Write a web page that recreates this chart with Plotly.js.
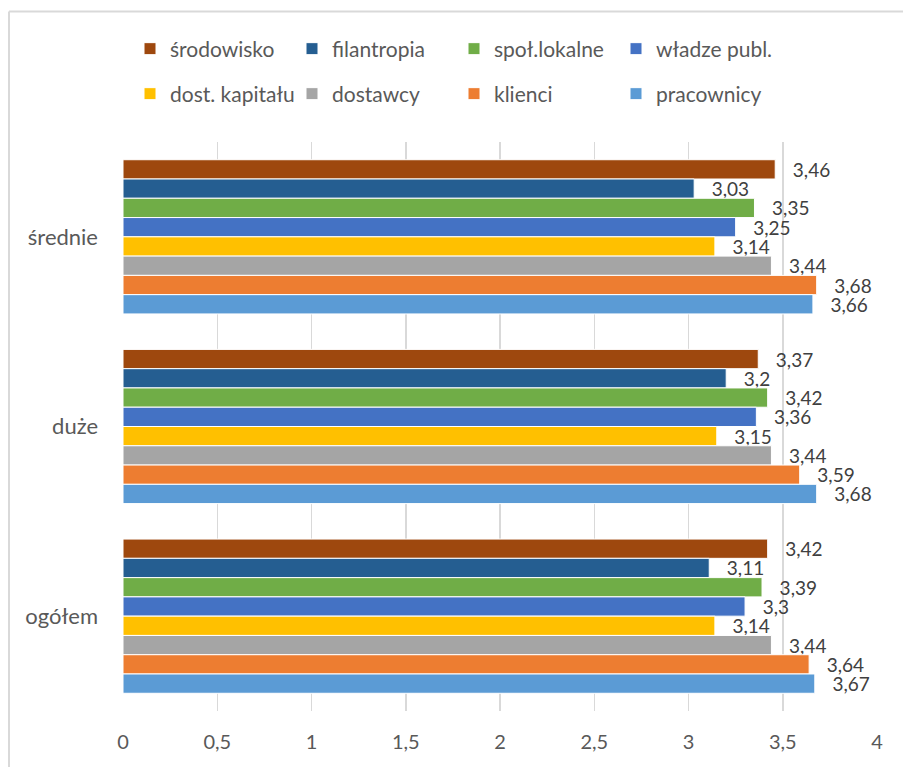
<!DOCTYPE html>
<html>
<head>
<meta charset="utf-8">
<script src="https://cdn.plot.ly/plotly-3.0.1.min.js"></script>
<style>
  html, body { margin: 0; padding: 0; background: #ffffff; }
  #chart { width: 903px; height: 767px; }
</style>
</head>
<body>
<div id="chart"></div>
<script>
// Company size groups (top to bottom)
const categories = ['średnie', 'duże', 'ogółem'];

// Stakeholder series, in legend order
const seriesNames = ['środowisko', 'filantropia', 'społ.lokalne', 'władze publ.',
                     'dost. kapitału', 'dostawcy', 'klienci', 'pracownicy'];

// Mean scores per group: [średnie, duże, ogółem]
const srodowisko   = [3.46, 3.37, 3.42];
const filantropia  = [3.03, 3.20, 3.11];
const spolLokalne  = [3.35, 3.42, 3.39];
const wladzePubl   = [3.25, 3.36, 3.30];
const dostKapitalu = [3.14, 3.15, 3.14];
const dostawcy     = [3.44, 3.44, 3.44];
const klienci      = [3.68, 3.59, 3.64];
const pracownicy   = [3.66, 3.68, 3.67];

const seriesValues = [srodowisko, filantropia, spolLokalne, wladzePubl,
                      dostKapitalu, dostawcy, klienci, pracownicy];

const seriesColors = ['#9E480E', '#255E91', '#70AD47', '#4472C4',
                      '#FFC000', '#A5A5A5', '#ED7D31', '#5B9BD5'];

// Axis ticks
const xTickVals = [0, 0.5, 1, 1.5, 2, 2.5, 3, 3.5, 4];

const FONT = 'Lato, "Open Sans", "DejaVu Sans", sans-serif';

// Polish decimal comma for value labels
function fmt(v) {
  return '\u00a0\u00a0\u00a0' + String(v).replace('.', ',');
}

const traces = seriesNames.map((name, i) => ({
  type: 'bar',
  orientation: 'h',
  name: name,
  y: categories,
  x: seriesValues[i],
  text: seriesValues[i].map(fmt),
  textposition: 'outside',
  constraintext: 'none',
  cliponaxis: false,
  textfont: { family: FONT, size: 19, color: '#404040' },
  marker: { color: seriesColors[i], line: { color: '#ffffff', width: 1 } },
  hoverinfo: 'name+x',
  legend: i < 4 ? 'legend' : 'legend2'
}));

// Chart frame (thin grey edge at top and left)
const W = 903, H = 767;
const M = { l: 123, r: 26, t: 142, b: 56 };
const pw = W - M.l - M.r, ph = H - M.t - M.b;
const px = x => (x - M.l) / pw;
const py = y => (H - M.b - y) / ph;

const legendCommon = {
  orientation: 'h',
  xref: 'container',
  yref: 'container',
  x: 130 / W,
  xanchor: 'left',
  yanchor: 'middle',
  entrywidth: 117,
  entrywidthmode: 'pixels',
  bgcolor: 'rgba(0,0,0,0)',
  font: { family: FONT, size: 21, color: '#595959' }
};

const layout = {
  width: W,
  height: H,
  margin: M,
  paper_bgcolor: '#ffffff',
  plot_bgcolor: '#ffffff',
  separators: ', ',
  barmode: 'group',
  bargap: 0.187,
  bargroupgap: 0,
  font: { family: FONT, color: '#595959' },
  showlegend: true,
  legend: Object.assign({}, legendCommon, { y: 1 - 49 / H }),
  legend2: Object.assign({}, legendCommon, { y: 1 - 94 / H }),
  xaxis: {
    range: [0, 4],
    tickvals: xTickVals,
    showgrid: true,
    gridcolor: '#D9D9D9',
    gridwidth: 1.5,
    zeroline: false,
    showline: false,
    ticks: '',
    ticklabelstandoff: 17,
    tickfont: { family: FONT, size: 20, color: '#595959' },
    fixedrange: true
  },
  yaxis: {
    type: 'category',
    categoryorder: 'array',
    categoryarray: categories,
    autorange: 'reversed',
    showgrid: false,
    zeroline: false,
    showline: false,
    ticks: '',
    ticklabelstandoff: 24,
    tickfont: { family: FONT, size: 22, color: '#595959' },
    fixedrange: true
  },
  shapes: [
    { type: 'line', xref: 'paper', yref: 'paper',
      x0: px(9), x1: px(W + 5), y0: py(11.5), y1: py(11.5),
      line: { color: '#D9D9D9', width: 2 } },
    { type: 'line', xref: 'paper', yref: 'paper',
      x0: px(9), x1: px(9), y0: py(11.5), y1: py(H + 5),
      line: { color: '#D9D9D9', width: 2 } }
  ]
};

Plotly.newPlot('chart', traces, layout, { displayModeBar: false, staticPlot: true });
</script>
</body>
</html>
